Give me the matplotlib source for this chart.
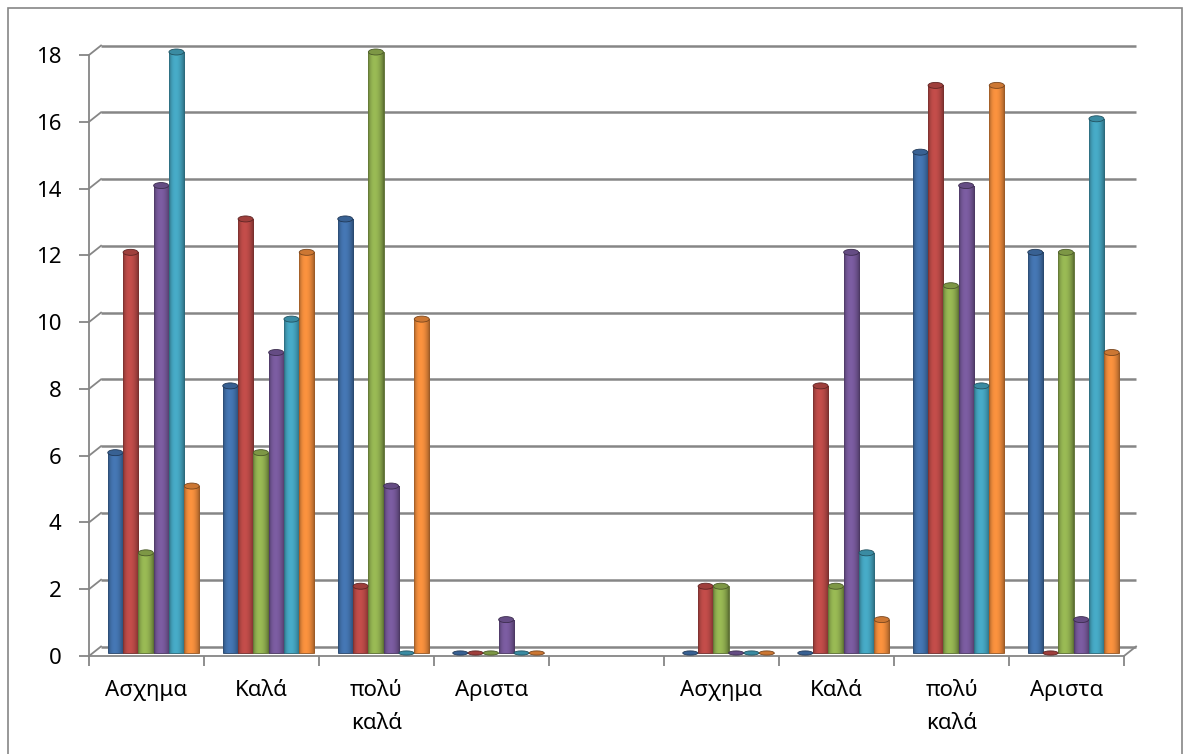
import numpy as np
import matplotlib
matplotlib.use("Agg")
import matplotlib.pyplot as plt
from matplotlib.patches import Ellipse, Rectangle
from matplotlib.colors import to_rgb

plt.rcParams['font.family'] = ['Noto Sans', 'DejaVu Sans']

# categorias (la quinta va vacia, separa los dos grupos)
categorias = ["Ασχημα", "Καλά", "πολύ\nκαλά", "Αριστα", "",
              "Ασχημα", "Καλά", "πολύ\nκαλά", "Αριστα"]

s_azul = [6, 8, 13, 0, np.nan, 0, 0, 15, 12]
s_rojo = [12, 13, 2, 0, np.nan, 2, 8, 17, 0]
s_verde = [3, 6, 18, 0, np.nan, 2, 2, 11, 12]
s_morado = [14, 9, 5, 1, np.nan, 0, 12, 14, 1]
s_celeste = [18, 10, 0, 0, np.nan, 0, 3, 8, 16]
s_naranjo = [5, 12, 10, 0, np.nan, 0, 1, 17, 9]

series = [s_azul, s_rojo, s_verde, s_morado, s_celeste, s_naranjo]
colores = ["#4272ad", "#bb4a47", "#93b251", "#77599b", "#44a4bf", "#f08c3c"]

W, H = 1186, 754
fig = plt.figure(figsize=(W / 100, H / 100), dpi=100)
# area frontal del grafico en pixeles
x0p, x1p, y0p, y1p = 89, 1124, 656, 55
ax = fig.add_axes([x0p / W, (H - y0p) / H, (x1p - x0p) / W, (y0p - y1p) / H])
ax.set_xlim(-0.5, 8.5)
ax.set_ylim(0, 18)

px_x = (x1p - x0p) / 9.0
px_y = (y0p - y1p) / 18.0
# profundidad (pared del fondo)
ddx = 12 / px_x
ddy = 9.5 / px_y
# desplazamiento de las barras (a media profundidad)
bdx = 7 / px_x
bdy = 3 / px_y

gris = "#868686"
yt = np.arange(0, 19, 2)
for v in yt:
    ax.plot([-0.5 + ddx, 8.5 + ddx], [v + ddy, v + ddy], color=gris, lw=1.8,
            clip_on=False, zorder=1, solid_capstyle="butt")
    ax.plot([-0.5, -0.5 + ddx], [v, v + ddy], color=gris, lw=1.3,
            clip_on=False, zorder=1)
ax.plot([8.5, 8.5 + ddx], [0, ddy], color=gris, lw=1.3, clip_on=False, zorder=1)

for s in ["top", "right"]:
    ax.spines[s].set_visible(False)
for s in ["left", "bottom"]:
    ax.spines[s].set_color(gris)
    ax.spines[s].set_linewidth(1.3)

ax.set_yticks(yt)
ax.tick_params(axis="y", length=7, width=1.3, color=gris, pad=13,
               labelsize=16, labelcolor="black")
ax.set_xticks(np.arange(-0.5, 9, 1))
ax.set_xticklabels([])
ax.tick_params(axis="x", which="major", length=7, width=1.3, color=gris)
ax.set_xticks(np.arange(9), minor=True)
ax.set_xticklabels(categorias, minor=True, fontsize=16, linespacing=1.75,
                   va="top")
ax.tick_params(axis="x", which="minor", length=0, pad=17)

# barras cilindricas
n = len(series)
ancho = 0.133
t = np.linspace(0, 1, 40)
sombra = 0.6 + 0.45 * np.sin(np.pi * t ** 0.8) ** 0.7
eh = 6 / px_y
for i, (vals, c) in enumerate(zip(series, colores)):
    base = np.array(to_rgb(c))
    xs = np.arange(9) + (i - (n - 1) / 2) * ancho + bdx
    vals = np.array(vals, dtype=float)
    ok = ~np.isnan(vals)
    barras = ax.bar(xs[ok], vals[ok], width=ancho, bottom=bdy, color=c,
                    edgecolor=base * 0.6, linewidth=0.6, zorder=3,
                    clip_on=False)
    grad = np.clip(base[None, None, :] * sombra[None, :, None], 0, 1)
    for b, v in zip(barras, vals[ok]):
        xb = b.get_x()
        if v > 0:
            im = ax.imshow(grad, extent=[xb, xb + ancho, bdy, bdy + v],
                           aspect="auto", interpolation="bilinear",
                           zorder=3.5)
            im.set_clip_path(b)
        ax.add_patch(Ellipse((xb + ancho / 2, bdy + v), ancho * 0.98,
                             eh if v > 0 else eh * 0.7,
                             facecolor=np.clip(base * 0.85, 0, 1),
                             edgecolor=base * 0.5, lw=0.6, zorder=4,
                             clip_on=False))

ax.set_xlim(-0.5, 8.5)
ax.set_ylim(0, 18)
ax.set_aspect("auto")

# marco exterior
fig.patches.append(Rectangle((8 / W, -0.01), (1182 - 8) / W, (H - 8) / H + 0.01,
                             transform=fig.transFigure, fill=False,
                             edgecolor="#868686", lw=1.2))

fig.savefig("out.png", dpi=100)
